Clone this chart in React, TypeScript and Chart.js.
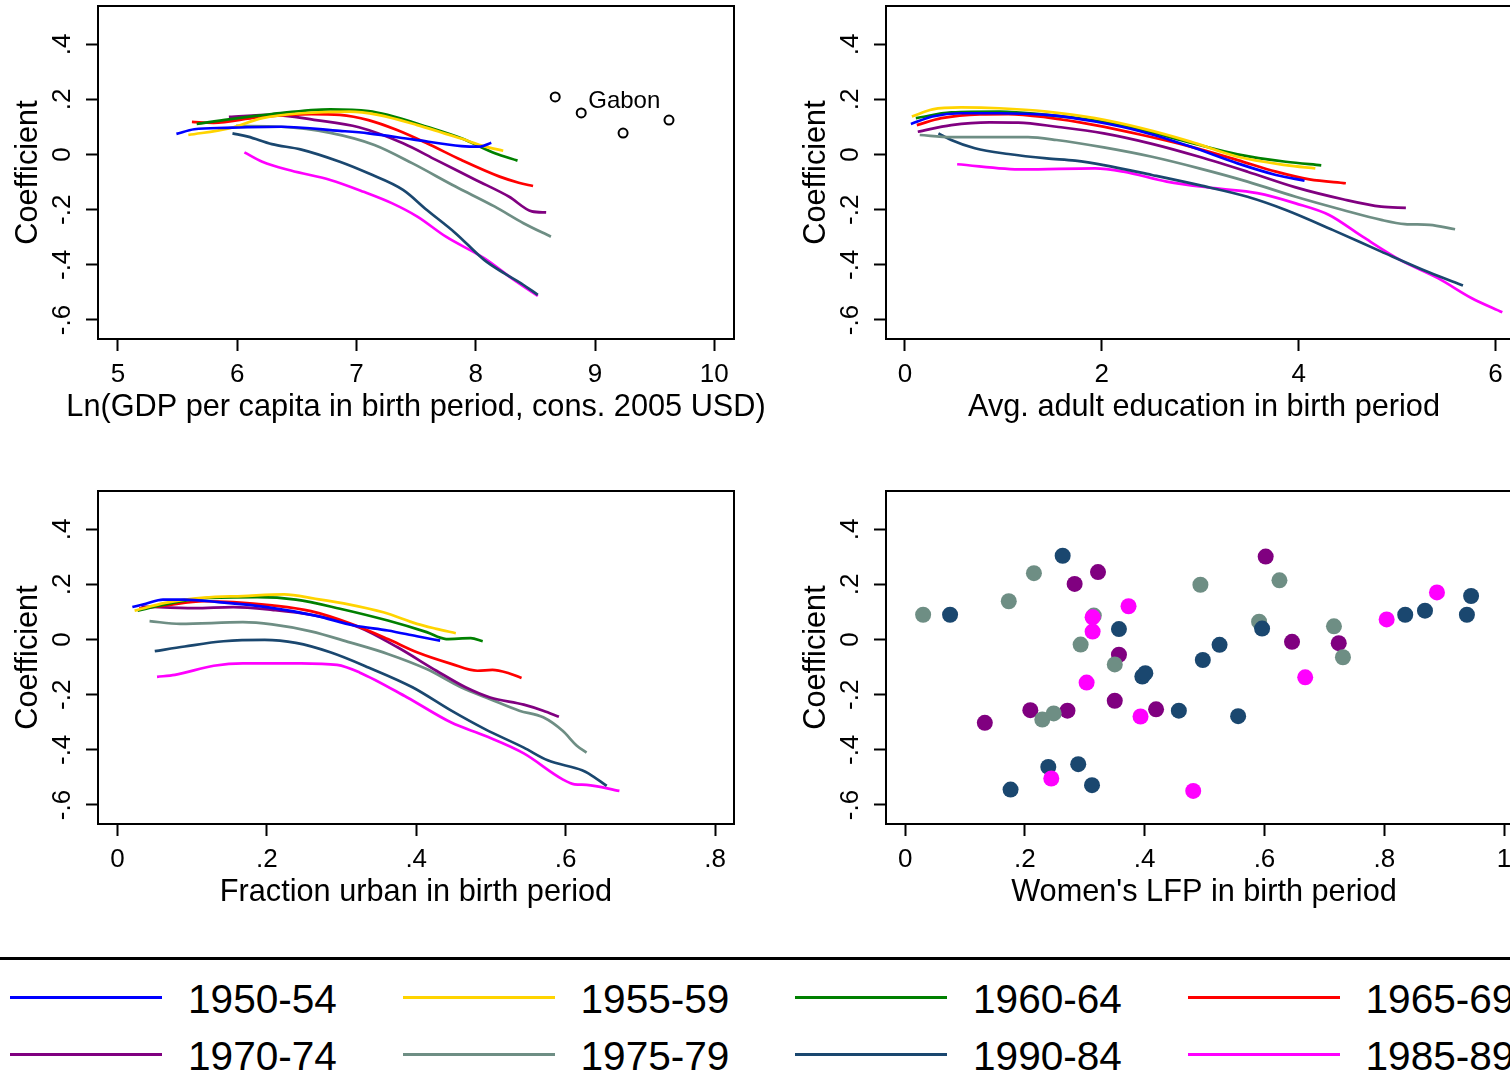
import React, { useEffect, useRef } from "react";
import { Chart, registerables } from "chart.js";

Chart.register(...registerables);

const FONT = "'Liberation Sans', Arial, Helvetica, sans-serif";
const CANVAS_W = 785;
const CANVAS_H = 440;

// Cohorts (legend order) and colours
const cohorts = ["1950-54", "1955-59", "1960-64", "1965-69", "1970-74", "1975-79", "1990-84", "1985-89"];
const cohortColors = ["#0000FF", "#FFD400", "#008000", "#FF0000", "#800080", "#6E8E84", "#1A476F", "#FF00FF"];

// Y axis (all panels)
const yTickValues = [-0.6, -0.4, -0.2, 0, 0.2, 0.4];
const yTickLabels = ["-.6", "-.4", "-.2", "0", ".2", ".4"];

// X axes
const gdpTickValues = [5, 6, 7, 8, 9, 10];
const gdpTickLabels = ["5", "6", "7", "8", "9", "10"];
const eduTickValues = [0, 2, 4, 6];
const eduTickLabels = ["0", "2", "4", "6"];
const urbTickValues = [0, 0.2, 0.4, 0.6, 0.8];
const urbTickLabels = ["0", ".2", ".4", ".6", ".8"];
const lfpTickValues = [0, 0.2, 0.4, 0.6, 0.8, 1];
const lfpTickLabels = ["0", ".2", ".4", ".6", ".8", "1"];

// Panel 1: Ln(GDP per capita) — [x, coefficient]
const gdp1950 = [[5.49, 0.075], [5.64, 0.092], [5.9, 0.097], [6.37, 0.101], [6.86, 0.086], [7.1, 0.077], [7.47, 0.055], [7.88, 0.031], [8.04, 0.029], [8.13, 0.043]];
const gdp1955 = [[5.59, 0.071], [5.93, 0.095], [6.21, 0.132], [6.54, 0.15], [6.94, 0.156], [7.18, 0.144], [7.51, 0.107], [7.87, 0.059], [8.08, 0.029], [8.23, 0.014]];
const gdp1960 = [[5.66, 0.111], [5.93, 0.128], [6.29, 0.147], [6.78, 0.164], [7.1, 0.158], [7.26, 0.144], [7.59, 0.101], [7.88, 0.059], [8.16, 0.005], [8.35, -0.022]];
const gdp1965 = [[5.62, 0.119], [5.8, 0.115], [6.17, 0.135], [6.62, 0.147], [6.86, 0.144], [7.1, 0.125], [7.34, 0.089], [7.59, 0.041], [7.88, -0.02], [8.2, -0.08], [8.36, -0.102], [8.48, -0.114]];
const gdp1970 = [[5.93, 0.137], [6.29, 0.144], [6.66, 0.125], [7.02, 0.099], [7.39, 0.041], [7.67, -0.02], [8.0, -0.092], [8.28, -0.153], [8.47, -0.206], [8.59, -0.21]];
const gdp1975 = [[5.99, 0.104], [6.37, 0.101], [6.78, 0.079], [7.15, 0.035], [7.47, -0.032], [7.83, -0.116], [8.16, -0.189], [8.4, -0.249], [8.63, -0.298]];
const gdp1990 = [[5.96, 0.077], [6.09, 0.065], [6.29, 0.038], [6.53, 0.019], [6.86, -0.026], [7.1, -0.068], [7.39, -0.128], [7.59, -0.201], [7.83, -0.285], [8.07, -0.382], [8.24, -0.431], [8.38, -0.467], [8.52, -0.509]];
const gdp1985 = [[6.06, 0.008], [6.21, -0.026], [6.45, -0.058], [6.78, -0.092], [7.06, -0.135], [7.3, -0.177], [7.51, -0.225], [7.75, -0.298], [8.07, -0.376], [8.32, -0.455], [8.52, -0.513]];
const gabonGdp = [8.666, 8.884, 9.235, 9.62];
const gabonCoef = [0.209, 0.151, 0.078, 0.125];
const gabonLabels = ["", "Gabon", "", ""];

// Panel 2: Avg. adult education
const edu1950 = [[0.06, 0.111], [0.28, 0.138], [0.57, 0.15], [0.96, 0.15], [1.44, 0.144], [1.93, 0.12], [2.41, 0.083], [2.9, 0.029], [3.38, -0.032], [3.77, -0.074], [4.06, -0.095]];
const edu1955 = [[0.07, 0.138], [0.28, 0.164], [0.57, 0.171], [0.96, 0.168], [1.44, 0.156], [1.93, 0.132], [2.41, 0.095], [2.9, 0.047], [3.38, -0.008], [3.87, -0.038], [4.17, -0.05]];
const edu1960 = [[0.11, 0.132], [0.47, 0.153], [0.96, 0.156], [1.44, 0.144], [1.93, 0.123], [2.41, 0.089], [2.9, 0.043], [3.38, 0.001], [3.87, -0.026], [4.23, -0.039]];
const edu1965 = [[0.12, 0.107], [0.37, 0.132], [0.76, 0.146], [1.05, 0.147], [1.44, 0.135], [1.93, 0.107], [2.41, 0.071], [2.9, 0.029], [3.38, -0.02], [3.77, -0.062], [4.11, -0.09], [4.48, -0.104]];
const edu1970 = [[0.13, 0.083], [0.47, 0.107], [0.86, 0.117], [1.15, 0.116], [1.54, 0.101], [2.02, 0.077], [2.51, 0.039], [2.99, -0.008], [3.48, -0.062], [3.97, -0.119], [4.45, -0.162], [4.84, -0.189], [5.09, -0.193]];
const edu1975 = [[0.15, 0.071], [0.47, 0.063], [1.25, 0.063], [1.54, 0.053], [2.02, 0.026], [2.51, -0.008], [2.99, -0.05], [3.48, -0.098], [3.97, -0.153], [4.45, -0.201], [4.84, -0.237], [5.08, -0.252], [5.33, -0.255], [5.59, -0.271]];
const edu1990 = [[0.34, 0.077], [0.47, 0.053], [0.71, 0.023], [1.05, 0.002], [1.44, -0.014], [1.73, -0.022], [2.02, -0.038], [2.51, -0.074], [2.99, -0.111], [3.48, -0.153], [3.87, -0.201], [4.35, -0.274], [4.84, -0.352], [5.33, -0.428], [5.67, -0.475]];
const edu1985 = [[0.53, -0.035], [1.2, -0.054], [1.93, -0.05], [2.22, -0.062], [2.66, -0.098], [3.14, -0.122], [3.58, -0.14], [3.97, -0.177], [4.31, -0.219], [4.65, -0.298], [5.03, -0.382], [5.42, -0.449], [5.76, -0.521], [6.07, -0.572]];

// Panel 3: Fraction urban
const urb1950 = [[0.02, 0.118], [0.038, 0.13], [0.061, 0.145], [0.09, 0.145], [0.135, 0.136], [0.2, 0.118], [0.265, 0.087], [0.317, 0.051], [0.362, 0.033], [0.401, 0.012], [0.432, -0.004]];
const urb1955 = [[0.023, 0.105], [0.064, 0.133], [0.116, 0.152], [0.168, 0.158], [0.223, 0.164], [0.265, 0.148], [0.311, 0.127], [0.356, 0.099], [0.401, 0.057], [0.427, 0.039], [0.453, 0.023]];
const urb1960 = [[0.027, 0.105], [0.058, 0.124], [0.116, 0.15], [0.187, 0.154], [0.239, 0.145], [0.298, 0.112], [0.362, 0.069], [0.414, 0.027], [0.44, 0.002], [0.473, 0.005], [0.489, -0.006]];
const urb1965 = [[0.029, 0.112], [0.064, 0.124], [0.116, 0.139], [0.155, 0.136], [0.207, 0.124], [0.259, 0.103], [0.311, 0.059], [0.362, 0.002], [0.401, -0.046], [0.447, -0.088], [0.482, -0.113], [0.502, -0.11], [0.524, -0.122], [0.541, -0.139]];
const urb1970 = [[0.032, 0.12], [0.103, 0.114], [0.155, 0.118], [0.207, 0.108], [0.259, 0.09], [0.323, 0.045], [0.375, -0.028], [0.427, -0.113], [0.466, -0.173], [0.499, -0.21], [0.544, -0.236], [0.57, -0.258], [0.591, -0.28]];
const urb1975 = [[0.043, 0.067], [0.084, 0.057], [0.168, 0.063], [0.207, 0.055], [0.259, 0.03], [0.311, -0.01], [0.362, -0.052], [0.414, -0.107], [0.46, -0.173], [0.499, -0.216], [0.538, -0.258], [0.57, -0.282], [0.596, -0.331], [0.615, -0.385], [0.628, -0.41]];
const urb1990 = [[0.05, -0.042], [0.09, -0.025], [0.142, -0.006], [0.197, -0.001], [0.239, -0.012], [0.285, -0.046], [0.336, -0.101], [0.395, -0.173], [0.447, -0.258], [0.492, -0.325], [0.544, -0.392], [0.576, -0.438], [0.622, -0.474], [0.631, -0.486], [0.655, -0.531]];
const urb1985 = [[0.053, -0.135], [0.077, -0.128], [0.129, -0.095], [0.168, -0.086], [0.246, -0.086], [0.294, -0.092], [0.324, -0.119], [0.388, -0.21], [0.447, -0.301], [0.492, -0.349], [0.544, -0.413], [0.596, -0.507], [0.612, -0.525], [0.628, -0.527], [0.672, -0.549]];

// Panel 4: Women's LFP (scatter)
const lfp1970X = [0.133, 0.209, 0.271, 0.283, 0.322, 0.357, 0.35, 0.419, 0.602, 0.646, 0.724];
const lfp1970Y = [-0.302, -0.256, -0.258, 0.202, 0.245, -0.055, -0.222, -0.253, 0.301, -0.008, -0.013];
const lfp1975X = [0.03, 0.173, 0.215, 0.315, 0.293, 0.35, 0.229, 0.248, 0.493, 0.591, 0.625, 0.716, 0.731];
const lfp1975Y = [0.09, 0.139, 0.241, 0.087, -0.018, -0.09, -0.29, -0.268, 0.199, 0.065, 0.215, 0.048, -0.064];
const lfp1990X = [0.075, 0.263, 0.357, 0.396, 0.401, 0.457, 0.497, 0.525, 0.556, 0.596, 0.239, 0.289, 0.312, 0.176, 0.835, 0.868, 0.945, 0.938];
const lfp1990Y = [0.09, 0.304, 0.038, -0.134, -0.122, -0.258, -0.074, -0.019, -0.278, 0.04, -0.462, -0.452, -0.528, -0.544, 0.09, 0.105, 0.158, 0.09];
const lfp1985X = [0.244, 0.303, 0.313, 0.313, 0.373, 0.393, 0.481, 0.668, 0.804, 0.888];
const lfp1985Y = [-0.504, -0.156, 0.029, 0.081, 0.121, -0.279, -0.549, -0.137, 0.073, 0.171];

// Axis titles
const gdpTitle = "Ln(GDP per capita in birth period, cons. 2005 USD)";
const eduTitle = "Avg. adult education in birth period";
const urbTitle = "Fraction urban in birth period";
const lfpTitle = "Women's LFP in birth period";
const yTitle = "Coefficient";

const pairs = (arr: number[][]) => arr.map(([x, y]) => ({ x, y }));
const zip = (xs: number[], ys: number[]) => xs.map((x, i) => ({ x, y: ys[i] }));

const framePlugin = {
  id: "frame",
  beforeDatasetsDraw(chart: any) {
    const { ctx, chartArea: a } = chart;
    ctx.save();
    ctx.strokeStyle = "#000";
    ctx.lineWidth = 2;
    ctx.strokeRect(a.left, a.top, a.right - a.left, a.bottom - a.top);
    ctx.restore();
  },
};

// x-axis title drawn without Chart.js's maxWidth squeeze
const xTitlePlugin = {
  id: "xTitle",
  afterDraw(chart: any, _args: any, opts: any) {
    if (!opts || !opts.text) return;
    const { ctx, chartArea: a } = chart;
    ctx.save();
    ctx.fillStyle = "#000";
    ctx.font = `30.7px ${FONT}`;
    ctx.textAlign = "center";
    ctx.textBaseline = "middle";
    ctx.fillText(opts.text, (a.left + a.right) / 2, a.bottom + 68.6);
    ctx.restore();
  },
};

const gabonLabelPlugin = {
  id: "gabonLabels",
  afterDatasetsDraw(chart: any) {
    const idx = chart.data.datasets.findIndex((d: any) => d.label === "Gabon");
    if (idx < 0) return;
    const meta = chart.getDatasetMeta(idx);
    const { ctx } = chart;
    ctx.save();
    ctx.fillStyle = "#000";
    ctx.font = `24px ${FONT}`;
    ctx.textAlign = "left";
    ctx.textBaseline = "middle";
    meta.data.forEach((pt: any, i: number) => {
      const t = gabonLabels[i];
      if (t) ctx.fillText(t, pt.x + 7, pt.y - 12);
    });
    ctx.restore();
  },
};

function makeOptions(xMin: number, xMax: number, xVals: number[], xLabs: string[], xTitle: string) {
  return {
    responsive: false,
    animation: false,
    events: [],
    layout: { autoPadding: false, padding: { left: 0, top: 6, right: CANVAS_W - 734, bottom: 0 } },
    plugins: { legend: { display: false }, tooltip: { enabled: false }, xTitle: { text: xTitle } },
    scales: {
      x: {
        type: "linear",
        position: "bottom",
        min: xMin,
        max: xMax,
        bounds: "data",
        afterBuildTicks: (s: any) => {
          s.ticks = xVals.map((v) => ({ value: v }));
        },
        afterFit: (s: any) => {
          s.height = 101;
          s.paddingLeft = 0;
          s.paddingRight = 0;
        },
        ticks: {
          callback: (_v: any, i: number) => xLabs[i],
          font: { family: FONT, size: 26 },
          color: "#000",
          padding: 8,
          maxRotation: 0,
          minRotation: 0,
          autoSkip: false,
        },
        grid: { drawOnChartArea: false, drawTicks: true, tickLength: 12, tickWidth: 2, tickColor: "#000" },
        border: { display: false },
        title: { display: false },
      },
      y: {
        type: "linear",
        position: "left",
        min: -0.669,
        max: 0.539,
        bounds: "data",
        afterBuildTicks: (s: any) => {
          s.ticks = yTickValues.map((v) => ({ value: v }));
        },
        afterFit: (s: any) => {
          s.width = 98;
          s.paddingTop = 0;
          s.paddingBottom = 0;
        },
        ticks: {
          callback: (_v: any, i: number) => yTickLabels[i],
          font: { family: FONT, size: 26 },
          color: "#000",
          padding: 8,
          minRotation: 90,
          maxRotation: 90,
          crossAlign: "center",
          autoSkip: false,
        },
        grid: { drawOnChartArea: false, drawTicks: true, tickLength: 12, tickWidth: 2, tickColor: "#000" },
        border: { display: false },
        title: { display: true, text: yTitle, font: { family: FONT, size: 30.7 }, color: "#000", padding: { top: 10, bottom: 0 } },
      },
    },
  };
}

const lineDs = (label: string, color: string, data: number[][]) => ({
  label,
  data: pairs(data),
  showLine: true,
  borderColor: color,
  backgroundColor: color,
  borderWidth: 2.7,
  pointRadius: 0,
  cubicInterpolationMode: "monotone",
  fill: false,
});

function gdpConfig() {
  const series = [gdp1950, gdp1955, gdp1960, gdp1965, gdp1970, gdp1975, gdp1990, gdp1985];
  return {
    type: "scatter",
    data: {
      datasets: [
        ...series.map((s, i) => lineDs(cohorts[i], cohortColors[i], s)),
        {
          label: "Gabon",
          data: zip(gabonGdp, gabonCoef),
          showLine: false,
          pointRadius: 4.5,
          pointBorderWidth: 2,
          pointBorderColor: "#000",
          pointBackgroundColor: "rgba(0,0,0,0)",
        },
      ],
    },
    options: makeOptions(4.8325, 10.165, gdpTickValues, gdpTickLabels, gdpTitle),
    plugins: [framePlugin, gabonLabelPlugin, xTitlePlugin],
  };
}

function eduConfig() {
  const series = [edu1950, edu1955, edu1960, edu1965, edu1970, edu1975, edu1990, edu1985];
  return {
    type: "scatter",
    data: { datasets: series.map((s, i) => lineDs(cohorts[i], cohortColors[i], s)) },
    options: makeOptions(-0.193, 6.27, eduTickValues, eduTickLabels, eduTitle),
    plugins: [framePlugin, xTitlePlugin],
  };
}

function urbConfig() {
  const series = [urb1950, urb1955, urb1960, urb1965, urb1970, urb1975, urb1990, urb1985];
  return {
    type: "scatter",
    data: { datasets: series.map((s, i) => lineDs(cohorts[i], cohortColors[i], s)) },
    options: makeOptions(-0.026, 0.8254, urbTickValues, urbTickLabels, urbTitle),
    plugins: [framePlugin, xTitlePlugin],
  };
}

const dotDs = (label: string, color: string, xs: number[], ys: number[], order: number) => ({
  label,
  data: zip(xs, ys),
  showLine: false,
  pointRadius: 8,
  pointBorderWidth: 0,
  pointBackgroundColor: color,
  pointBorderColor: color,
  order,
});

function lfpConfig() {
  return {
    type: "scatter",
    data: {
      datasets: [
        dotDs(cohorts[4], cohortColors[4], lfp1970X, lfp1970Y, 3),
        dotDs(cohorts[5], cohortColors[5], lfp1975X, lfp1975Y, 2),
        dotDs(cohorts[6], cohortColors[6], lfp1990X, lfp1990Y, 1),
        dotDs(cohorts[7], cohortColors[7], lfp1985X, lfp1985Y, 0),
      ],
    },
    options: makeOptions(-0.032, 1.03, lfpTickValues, lfpTickLabels, lfpTitle),
    plugins: [framePlugin, xTitlePlugin],
  };
}

function ChartPanel({ left, top, build }: { left: number; top: number; build: () => any }) {
  const ref = useRef<HTMLCanvasElement | null>(null);
  useEffect(() => {
    if (!ref.current) return;
    const chart = new Chart(ref.current, build());
    return () => chart.destroy();
  }, []);
  return (
    <canvas
      ref={ref}
      width={CANVAS_W}
      height={CANVAS_H}
      style={{ position: "absolute", left, top, width: CANVAS_W, height: CANVAS_H }}
    />
  );
}

export default function App() {
  return (
    <div
      style={{
        position: "fixed",
        left: 0,
        top: 0,
        width: 1510,
        height: 1090,
        overflow: "hidden",
        background: "#fff",
      }}
    >
      <ChartPanel left={0} top={0} build={gdpConfig} />
      <ChartPanel left={788} top={0} build={eduConfig} />
      <ChartPanel left={0} top={485} build={urbConfig} />
      <ChartPanel left={788} top={485} build={lfpConfig} />
      <div style={{ position: "absolute", left: 0, top: 957, width: 1510, height: 3, background: "#000" }} />
      {cohorts.map((c, i) => {
        const row = Math.floor(i / 4);
        const col = i % 4;
        const cy = 998 + row * 57;
        return (
          <React.Fragment key={c}>
            <div
              style={{
                position: "absolute",
                left: 10 + col * 392.5,
                top: cy - 2.5,
                width: 152,
                height: 3,
                background: cohortColors[i],
              }}
            />
            <div
              style={{
                position: "absolute",
                left: 188 + col * 392.5,
                top: cy - 19,
                height: 40,
                lineHeight: "40px",
                fontSize: 40.6,
                fontFamily: FONT,
                color: "#000",
                whiteSpace: "nowrap",
              }}
            >
              {c}
            </div>
          </React.Fragment>
        );
      })}
    </div>
  );
}
